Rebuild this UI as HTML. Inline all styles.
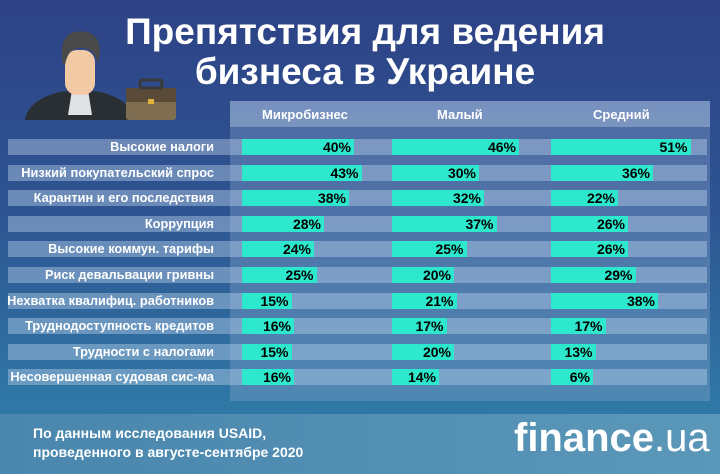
<!DOCTYPE html>
<html><head><meta charset="utf-8"><style>
body{margin:0;width:720px;height:474px;overflow:hidden;font-family:"Liberation Sans",sans-serif;}
#bg{position:absolute;left:0;top:0;width:720px;height:474px;background:linear-gradient(180deg,#2d4286 0%,#2e5592 45%,#2f77a5 85%);}
#foot{position:absolute;left:0;top:414px;width:720px;height:60px;background:linear-gradient(90deg,#4a86ad,#5a97b8);}
.title{position:absolute;left:90px;top:12px;width:550px;text-align:center;color:#fff;font-weight:bold;font-size:37px;line-height:40px;}
#panel{position:absolute;left:230px;top:101px;width:480px;height:300px;background:rgba(140,170,210,0.35);}
#hdr{position:absolute;left:230px;top:101px;width:480px;height:26px;background:rgba(170,195,225,0.45);}
.h{position:absolute;top:107px;color:#fff;font-weight:bold;font-size:13px;}
.band{position:absolute;left:8px;width:699px;height:16px;background:rgba(180,205,230,0.45);}
.lab{position:absolute;left:0;width:214px;text-align:right;color:#fff;font-weight:bold;font-size:12.8px;line-height:16px;}
.bar{position:absolute;height:16px;background:#2de8cc;color:#000;font-weight:bold;font-size:14px;line-height:16px;text-align:right;box-sizing:border-box;padding-right:3px;}
.src{position:absolute;left:33px;top:424px;color:#fff;font-weight:bold;font-size:14px;line-height:19px;}
.logo{position:absolute;left:514px;top:416px;color:#fff;font-size:40px;font-weight:bold;}
</style></head><body>
<div id="bg"></div><div id="foot"></div>
<svg style="position:absolute;left:20px;top:20px" width="160" height="105">
<path d="M5 100 Q8 80 40 72 L60 70 L80 72 Q112 80 115 100 Z" fill="#2a2f33"/>
<path d="M52 70 L68 70 L72 95 L48 95 Z" fill="#dfe3e6"/>
<rect x="45" y="30" width="30" height="45" rx="12" fill="#f2c9a5"/>
<path d="M43 45 Q38 15 55 12 Q78 8 80 30 L78 45 Q76 28 60 28 Q48 28 45 45Z" fill="#4a4a4a"/>
<rect x="106" y="68" width="50" height="32" rx="3" fill="#7f6e52"/>
<rect x="106" y="68" width="50" height="14" fill="#5a4a38"/>
<rect x="120" y="60" width="22" height="8" rx="2" fill="none" stroke="#3a3a3a" stroke-width="3"/>
<rect x="128" y="79" width="6" height="5" fill="#e0b23a"/>
</svg>
<div class="title">Препятствия для ведения<br>бизнеса в Украине</div>
<div id="panel"></div><div id="hdr"></div>
<div class="h" style="left:262px">Микробизнес</div>
<div class="h" style="left:437px">Малый</div>
<div class="h" style="left:593px">Средний</div>
<div id="rows"></div>
<div class="src">По данным исследования USAID,<br>проведенного в августе-сентябре 2020</div>
<div class="logo">finance<span style="font-weight:normal">.ua</span></div>
<script>
var d=[["Высокие налоги",40,46,51],["Низкий покупательский спрос",43,30,36],["Карантин и его последствия",38,32,22],["Коррупция",28,37,26],["Высокие коммун. тарифы",24,25,26],["Риск девальвации гривны",25,20,29],["Нехватка квалифиц. работников",15,21,38],["Труднодоступность кредитов",16,17,17],["Трудности с налогами",15,20,13],["Несовершенная судовая сис-ма",16,14,6]];
var xs=[242,392,551],h="";
d.forEach(function(r,i){var y=139+i*25.6;
h+='<div class="band" style="top:'+y+'px"></div><div class="lab" style="top:'+y+'px">'+r[0]+'</div>';
for(var j=0;j<3;j++){var w=Math.max(42,12+2.5*r[j+1]);h+='<div class="bar" style="left:'+xs[j]+'px;top:'+y+'px;width:'+w+'px">'+r[j+1]+'%</div>';}});
document.getElementById("rows").innerHTML=h;
</script>
</body></html>
